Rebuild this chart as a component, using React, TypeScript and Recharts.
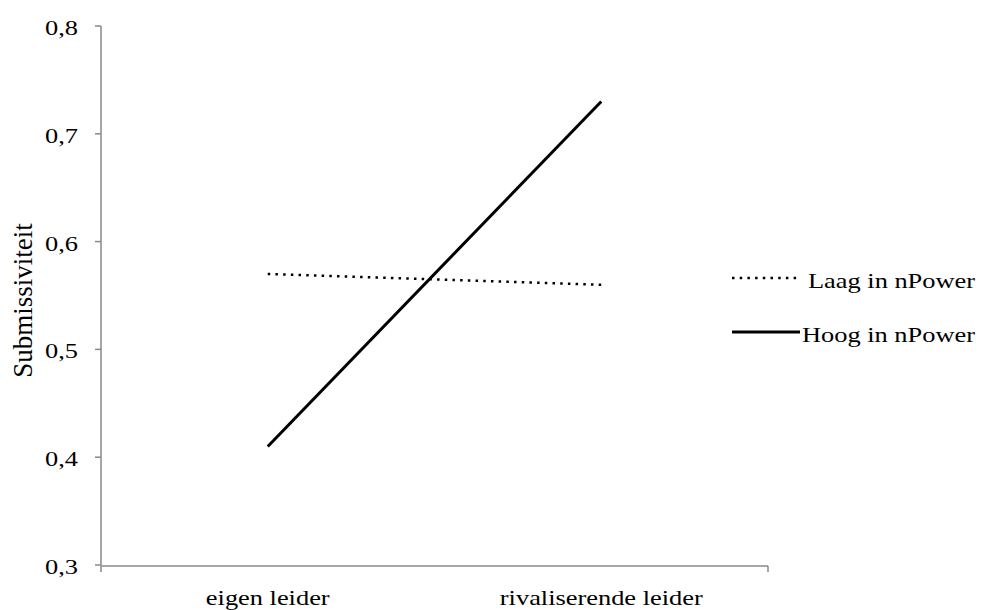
import React from 'react';
import { LineChart, Line, XAxis, YAxis, Legend } from 'recharts';

const categories = ['eigen leider', 'rivaliserende leider'];
const laagInNPower = [0.57, 0.56];
const hoogInNPower = [0.41, 0.73];
const yTicks = [0.3, 0.4, 0.5, 0.6, 0.7, 0.8];

const rows = categories.map((cat, i) => ({
  cat,
  laag: laagInNPower[i],
  hoog: hoogInNPower[i],
}));

const FONT = '"Liberation Serif", "Times New Roman", serif';
const AXIS = '#898989';

// the source text is drawn wider than it is tall, so stretch it sideways
const Stretched = ({ x, y, anchor, children }: any) => (
  <g transform={`translate(${x},${y})`}>
    <text transform="scale(1.2,1)" textAnchor={anchor} fontFamily={FONT} fontSize={22} fill="#000">
      {children}
    </text>
  </g>
);

const YTick = ({ x, y, payload }: any) => (
  <Stretched x={x} y={y + 9} anchor="end">
    {String(payload.value.toFixed(1)).replace('.', ',')}
  </Stretched>
);

const XTick = ({ x, y, payload }: any) => (
  <Stretched x={x} y={y + 34} anchor="middle">{payload.value}</Stretched>
);

const legendItems = [
  { key: 'laag', label: 'Laag in nPower', width: 2.5, dash: '2.5 5.2', y: 23, x2: 72, tx: 83 },
  { key: 'hoog', label: 'Hoog in nPower', width: 3, dash: undefined, y: 77, x2: 75, tx: 77 },
];

const LegendContent = () => (
  <svg width={260} height={100}>
    {legendItems.map((it) => (
      <g key={it.key}>
        <line x1={7} x2={it.x2} y1={it.y} y2={it.y} stroke="#000" strokeWidth={it.width} strokeDasharray={it.dash} />
        <Stretched x={it.tx} y={it.y + 10} anchor="start">{it.label}</Stretched>
      </g>
    ))}
  </svg>
);

const YLabel = ({ viewBox }: any) => {
  const cy = viewBox.y + viewBox.height / 2 + 5;
  return (
    <text x={32} y={cy} transform={`rotate(-90, 32, ${cy})`} textAnchor="middle"
          fontFamily={FONT} fontSize={27} fill="#000">
      Submissiviteit
    </text>
  );
};

export default function App() {
  return (
    <div style={{ position: 'absolute', left: 0, top: 0, background: '#fff' }}>
      <LineChart width={985} height={610} data={rows} margin={{ top: 26, right: 217, bottom: 0, left: 0 }}>
        {/* boundary ticks sit between the categories, so they get their own axis */}
        <XAxis
          xAxisId="edge"
          type="number"
          domain={[0, 2]}
          ticks={[0, 1, 2]}
          allowDataOverflow
          height={44}
          axisLine={{ stroke: AXIS, strokeWidth: 1.5 }}
          tickLine={{ stroke: AXIS, strokeWidth: 1.5 }}
          tickSize={6}
          tick={() => <g />}
        />
        <XAxis
          xAxisId="cat"
          dataKey="cat"
          scale="band"
          height={1}
          axisLine={false}
          tickLine={false}
          tickSize={0}
          tickMargin={6}
          tick={<XTick />}
          interval={0}
        />
        <YAxis
          width={101}
          domain={[0.3, 0.8]}
          ticks={yTicks}
          axisLine={{ stroke: AXIS, strokeWidth: 1.5 }}
          tickLine={{ stroke: AXIS, strokeWidth: 1.5 }}
          tickSize={6}
          tickMargin={17}
          tick={<YTick />}
          label={<YLabel />}
        />
        <Legend
          layout="horizontal"
          verticalAlign="middle"
          align="center"
          content={<LegendContent />}
          wrapperStyle={{ left: 725, top: 255, width: 260, height: 100 }}
        />
        <Line
          xAxisId="cat"
          type="linear"
          dataKey="laag"
          name="Laag in nPower"
          stroke="#000"
          strokeWidth={2.5}
          strokeDasharray="2.5 5.2"
          dot={false}
          isAnimationActive={false}
        />
        <Line
          xAxisId="cat"
          type="linear"
          dataKey="hoog"
          name="Hoog in nPower"
          stroke="#000"
          strokeWidth={3}
          dot={false}
          isAnimationActive={false}
        />
      </LineChart>
    </div>
  );
}
